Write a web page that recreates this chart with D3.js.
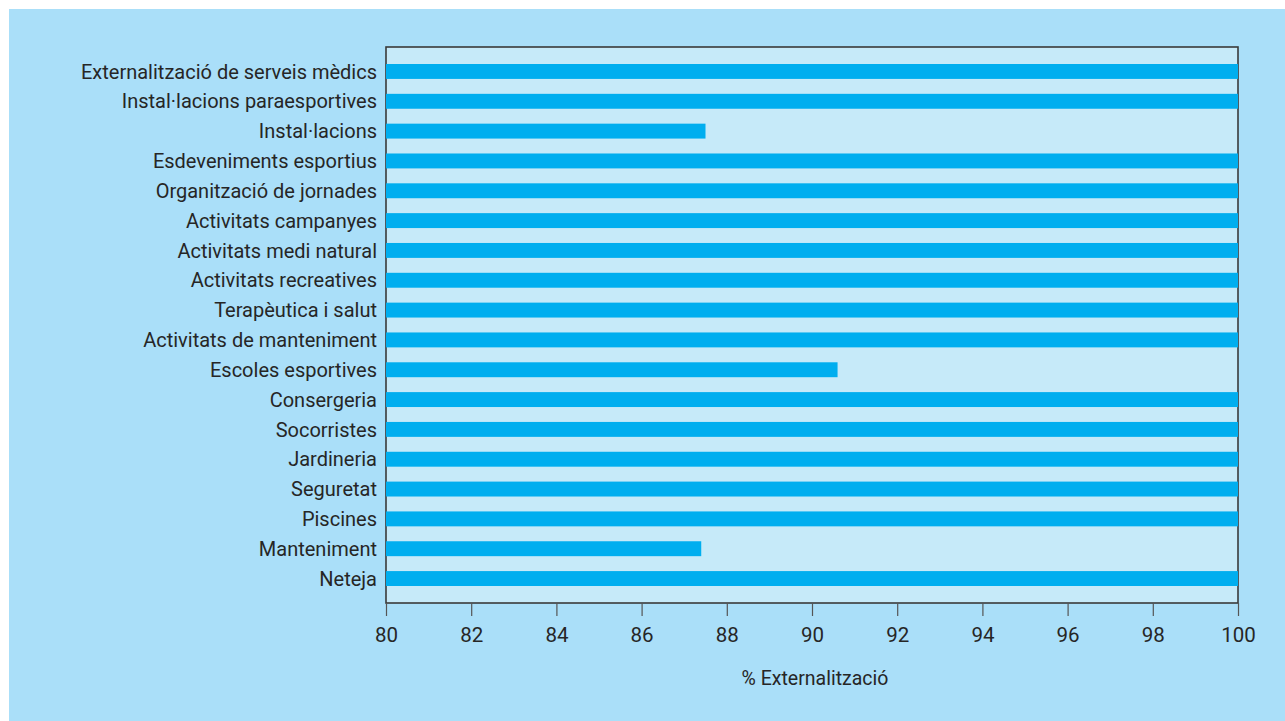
<!DOCTYPE html>
<html>
<head>
<meta charset="utf-8">
<script src="https://cdn.jsdelivr.net/npm/d3@7"></script>
<style>
  body { margin: 0; background: #fff; }
  svg { display: block; }
  text { font-family: Roboto, "Liberation Sans", sans-serif; fill: #262626; }
</style>
</head>
<body>
<div id="chart"></div>
<script>
// categories top to bottom
const categories = [
    'Externalització de serveis mèdics',
    'Instal·lacions paraesportives',
    'Instal·lacions',
    'Esdeveniments esportius',
    'Organització de jornades',
    'Activitats campanyes',
    'Activitats medi natural',
    'Activitats recreatives',
    'Terapèutica i salut',
    'Activitats de manteniment',
    'Escoles esportives',
    'Consergeria',
    'Socorristes',
    'Jardineria',
    'Seguretat',
    'Piscines',
    'Manteniment',
    'Neteja'
];

// % externalització per category
const values = [100, 100, 87.5, 100, 100, 100, 100, 100, 100, 100, 90.6, 100, 100, 100, 100, 100, 87.4, 100];

const xTicks = [80, 82, 84, 86, 88, 90, 92, 94, 96, 98, 100];
const xDomain = [80, 100];
const xTitle = '% Externalització';

const W = 1285, H = 721;
const plot = { left: 386, right: 1238, top: 47, bottom: 603 };

const data = categories.map((c, i) => ({ cat: c, value: values[i] }));

const svg = d3.select('#chart').append('svg')
    .attr('width', W)
    .attr('height', H);

// outer panel
svg.append('rect')
    .attr('x', 9).attr('y', 9)
    .attr('width', W - 9).attr('height', H - 9)
    .attr('fill', '#aadff9');

const x = d3.scaleLinear()
    .domain(xDomain)
    .range([plot.left, plot.right]);

const y = d3.scaleBand()
    .domain(categories)
    .range([plot.top, plot.bottom])
    .paddingInner(0.5)
    .paddingOuter(0.57);

// plot area
svg.append('rect')
    .attr('x', plot.left).attr('y', plot.top)
    .attr('width', plot.right - plot.left)
    .attr('height', plot.bottom - plot.top)
    .attr('fill', '#c6eaf9')
    .attr('stroke', '#3a3a3a')
    .attr('stroke-width', 1.6);

// bars
svg.append('g').selectAll('rect')
    .data(data)
    .join('rect')
    .attr('x', x(xDomain[0]))
    .attr('y', d => y(d.cat))
    .attr('width', d => x(d.value) - x(xDomain[0]))
    .attr('height', y.bandwidth())
    .attr('fill', '#00aeef');

// category labels
svg.append('g').selectAll('text')
    .data(categories)
    .join('text')
    .attr('x', plot.left - 9)
    .attr('y', d => y(d) + y.bandwidth() / 2)
    .attr('dy', '0.36em')
    .attr('text-anchor', 'end')
    .style('font-size', '20px')
    .text(d => d);

// x axis
const xAxis = d3.axisBottom(x)
    .tickValues(xTicks)
    .tickSize(13)
    .tickPadding(11)
    .tickSizeOuter(0);

const xAxisG = svg.append('g')
    .attr('transform', `translate(0,${plot.bottom})`)
    .call(xAxis);

xAxisG.select('.domain').remove();
xAxisG.selectAll('line').attr('stroke', '#555').attr('stroke-width', 1.2);
xAxisG.selectAll('text')
    .style('font-size', '20.5px')
    .style('font-family', 'Roboto, "Liberation Sans", sans-serif')
    .attr('fill', '#262626');

// axis title
svg.append('text')
    .attr('x', (plot.left + plot.right) / 2 + 3)
    .attr('y', 678)
    .attr('dy', '0.36em')
    .attr('text-anchor', 'middle')
    .style('font-size', '19.5px')
    .text(xTitle);
</script>
</body>
</html>
